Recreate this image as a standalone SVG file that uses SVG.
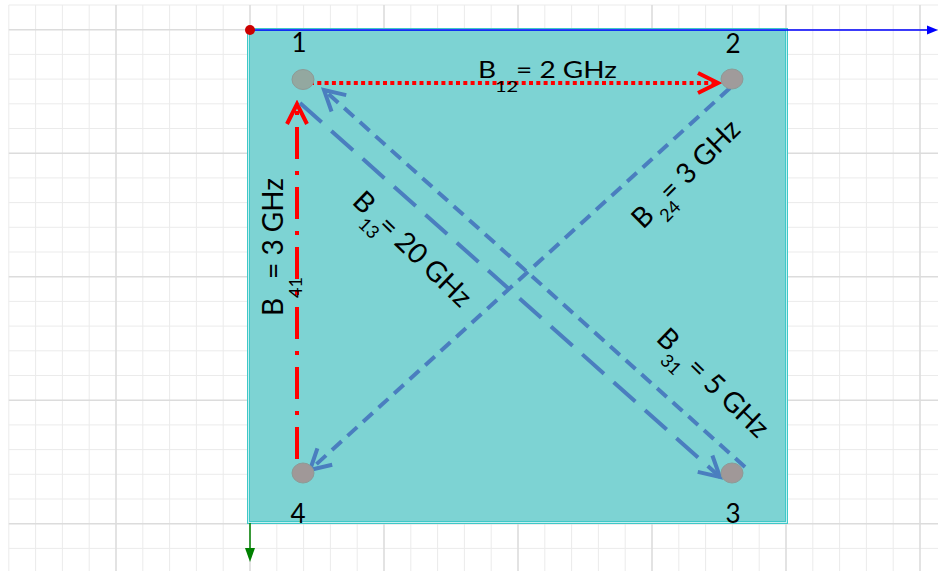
<svg xmlns="http://www.w3.org/2000/svg" width="938" height="571" viewBox="0 0 938 571">
<style>
  .gmin { stroke: #ebebeb; stroke-width: 1; fill: none; }
  .gmaj { stroke: #dcdcdc; stroke-width: 1.6; fill: none; }
  .num { font-family: Lato, "Open Sans", sans-serif; font-size: 26px; fill: #000; text-anchor: middle; }
  .lbl { font-family: Lato, "Open Sans", sans-serif; font-size: 28px; fill: #000; }
  .sub { font-family: Lato, "Open Sans", sans-serif; font-size: 18px; fill: #000; }
  .blue { stroke: #4a7ebf; stroke-width: 4; fill: none; }
  .red { stroke: #ff0000; stroke-width: 4; fill: none; }
  .port { stroke: #8d9a96; stroke-width: 1; }
</style>
<defs>
  <marker id="chevBlue" markerUnits="userSpaceOnUse" viewBox="-24 -14 28 28" markerWidth="28" markerHeight="28" refX="0" refY="0" orient="auto">
    <path d="M -20 -11 L 0 0 L -20 11" fill="none" stroke="#4a7ebf" stroke-width="4" stroke-dasharray="none"/>
  </marker>
  <marker id="chevRed" markerUnits="userSpaceOnUse" viewBox="-24 -14 28 28" markerWidth="28" markerHeight="28" refX="0" refY="0" orient="auto">
    <path d="M -20 -10 L 0 0 L -20 10" fill="none" stroke="#ff0000" stroke-width="4" stroke-dasharray="none"/>
  </marker>
</defs>
<rect x="0" y="0" width="938" height="571" fill="#ffffff"/>
<g id="grid">
  <path class="gmin" d="M8.8 5V571M35.6 5V571M62.4 5V571M89.2 5V571M142.8 5V571M169.6 5V571M196.4 5V571M223.2 5V571M276.8 5V571M303.6 5V571M330.4 5V571M357.2 5V571M410.8 5V571M437.6 5V571M464.4 5V571M491.2 5V571M544.8 5V571M571.6 5V571M598.4 5V571M625.2 5V571M678.8 5V571M705.6 5V571M732.4 5V571M759.2 5V571M812.8 5V571M839.6 5V571M866.4 5V571M893.2 5V571
  M8.8 5H938M8.8 54.4H938M8.8 79.1H938M8.8 103.8H938M8.8 128.5H938M8.8 177.9H938M8.8 202.6H938M8.8 227.3H938M8.8 252H938M8.8 301.4H938M8.8 326.1H938M8.8 350.8H938M8.8 375.5H938M8.8 424.9H938M8.8 449.6H938M8.8 474.3H938M8.8 499H938M8.8 548.4H938"/>
  <path class="gmaj" d="M116 5V571M250 5V571M384 5V571M518 5V571M652 5V571M786 5V571M920 5V571M8.8 29.7H938M8.8 153.2H938M8.8 276.7H938M8.8 400.2H938M8.8 523.7H938"/>
</g>
<g id="substrate">
  <rect x="248" y="29" width="539" height="494" fill="#7dd3d3"/>
  <rect x="247.5" y="28.5" width="540" height="495" fill="none" stroke="#3fc8c8" stroke-width="1"/>
  <rect x="248.5" y="29.5" width="538" height="493" fill="none" stroke="#c4efef" stroke-width="1"/>
  <rect x="249.5" y="30.5" width="536" height="491" fill="none" stroke="#3fc8c8" stroke-width="1"/>
</g>
<g id="axes">
  <line x1="250" y1="30" x2="929" y2="30" stroke="#0000ff" stroke-width="1.5"/>
  <polygon points="938,30 927,25.5 927,34.5" fill="#0000ff"/>
  <line x1="250" y1="523" x2="250" y2="552" stroke="#008000" stroke-width="1.5"/>
  <polygon points="250,562 245,548 255,548" fill="#008000"/>
  <circle cx="250" cy="30" r="5" fill="#cc0000"/>
</g>
<g id="connectors">
  <line id="c12" class="red" x1="310" y1="83" x2="718" y2="83" stroke-dasharray="4 3.3" marker-end="url(#chevRed)"/>
  <line id="c41" class="red" x1="297" y1="459" x2="297" y2="104" stroke-dasharray="32 12 4 12" marker-end="url(#chevRed)"/>
  <line id="c13" class="blue" x1="300" y1="103" x2="720" y2="477" stroke-dasharray="29 13" marker-end="url(#chevBlue)"/>
  <line id="c31" class="blue" x1="745" y1="467" x2="324" y2="90" stroke-dasharray="13 8" marker-end="url(#chevBlue)"/>
  <line id="c24" class="blue" x1="730" y1="88" x2="310" y2="470" stroke-dasharray="13 8" marker-end="url(#chevBlue)"/>
</g>
<g id="connector-labels">
  <g id="label-b12" transform="translate(478,78) scale(1,0.8)">
    <text class="lbl" x="0" y="0">B</text>
    <text class="sub" x="17" y="17.5" style="font-size:20px">12</text>
    <text class="lbl" x="38" y="0">= 2 GHz</text>
  </g>
  <g id="label-b41" transform="translate(283,316) rotate(-90)">
    <text class="lbl" x="0" y="0">B</text>
    <text class="sub" x="18" y="19">41</text>
    <text class="lbl" x="37" y="0">= 3 GHz</text>
  </g>
  <g id="label-b13" transform="translate(351,203) rotate(44)">
    <text class="lbl" x="0" y="0">B</text>
    <text class="sub" x="20" y="12">13</text>
    <text class="lbl" x="35" y="0">= 20 GHz</text>
  </g>
  <g id="label-b24" transform="translate(643,230) rotate(-45)">
    <text class="lbl" x="0" y="0">B</text>
    <text class="sub" x="22" y="12">24</text>
    <text class="lbl" x="39" y="0">= 3 GHz</text>
  </g>
  <g id="label-b31" transform="translate(655,340) rotate(44)">
    <text class="lbl" x="0" y="0">B</text>
    <text class="sub" x="18" y="13">31</text>
    <text class="lbl" x="42" y="0">= 5 GHz</text>
  </g>
</g>
<g id="node-1">
  <ellipse class="port" cx="303" cy="79.5" rx="11" ry="10" fill="#93a8a0"/>
  <text class="num" x="299" y="52">1</text>
</g>
<g id="node-2">
  <ellipse class="port" cx="732" cy="79" rx="11" ry="10" fill="#a09b9b"/>
  <text class="num" x="733" y="53">2</text>
</g>
<g id="node-3">
  <ellipse class="port" cx="732" cy="473" rx="11" ry="10" fill="#a09898"/>
  <text class="num" x="733" y="523">3</text>
</g>
<g id="node-4">
  <ellipse class="port" cx="303" cy="473" rx="11" ry="10" fill="#a09898"/>
  <text class="num" x="298" y="523">4</text>
</g>
</svg>
